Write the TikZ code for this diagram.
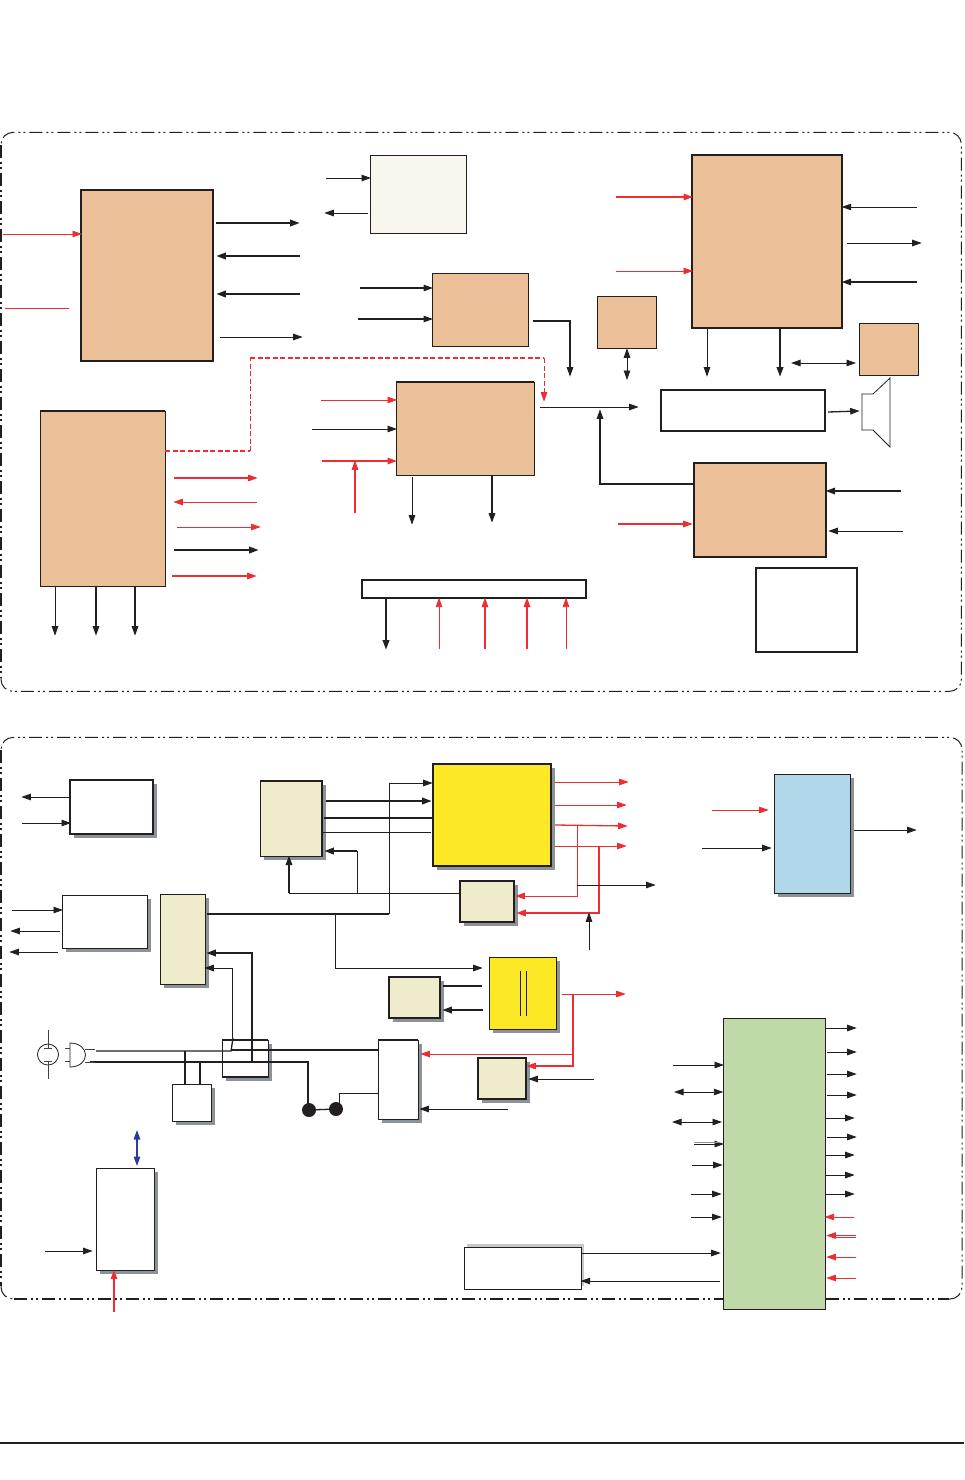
\documentclass[tikz,border=0pt]{standalone}
\usetikzlibrary{arrows.meta,shadows}
\definecolor{ink}{HTML}{231F20}
\definecolor{rd}{HTML}{EE2D32}
\definecolor{tan}{HTML}{EBBF98}
\definecolor{cream}{HTML}{F9F6EE}
\definecolor{khaki}{HTML}{EFECCB}
\definecolor{yel}{HTML}{FCE825}
\definecolor{skyb}{HTML}{B0D8EA}
\definecolor{grn}{HTML}{C0D9A8}
\definecolor{shd}{HTML}{8B9298}
\definecolor{nav}{HTML}{2E3A9A}
\newcounter{wr}
\newcommand\wire[3][]{\stepcounter{wr}\coordinate (w\thewr a) at (#2);\coordinate (w\thewr b) at (#3);\draw[#1] (w\thewr a) -- (w\thewr b);}
\newcommand\bx[6][]{\node[bbox,#1,minimum width={(#5-#3)*1pt},minimum height={(#6-#4)*1pt},anchor=north west] (#2) at (#3.3,#4.3) {};}
\tikzset{
  bbox/.style={draw=ink,line width=1pt,inner sep=0pt,outer sep=0pt,rectangle},
  sh/.style={drop shadow={shadow xshift=4pt,shadow yshift=-4pt,fill=shd,opacity=1}},
  hv/.style={line width=1.9pt},
  boxedge/.style={draw=ink,line width=1.9pt},
  wr/.style={draw=ink,line width=.9pt},
  md/.style={wr,line width=1.3pt},
  tk/.style={wr,line width=1.8pt},
  rw/.style={draw=rd,line width=.8pt},
  rm/.style={draw=rd,line width=1.3pt},
  rt/.style={draw=rd,line width=1.9pt},
  tip/.style={-{Triangle[length=9.5pt,width=6.5pt]},shorten >=-.7pt},
  rtip/.style={-{Triangle[length=9.5pt,width=6.5pt,fill=rd]},shorten >=-.7pt},
  both/.style={{Triangle[length=9.5pt,width=6.5pt]}-{Triangle[length=9.5pt,width=6.5pt]}},
  frame/.style={draw=ink,line width=1pt,rounded corners=12pt,dash pattern=on 13pt off 4pt on 2pt off 3pt on 2pt off 4pt},
  framethick/.style={draw=ink,line width=2pt,dash pattern=on 13pt off 4pt on 2pt off 3pt on 2pt off 4pt},
}
\begin{document}
\begin{tikzpicture}[x=1pt,y=-1pt,>=Triangle]
\useasboundingbox (0,0) rectangle (964,1480);
\fill[white] (0,0) rectangle (964,1480);
% frames
\draw[frame] (1,678) -- (1,691.4) -- (961.4,691.4) -- (961.4,132.4) -- (1,132.4) -- (1,145);
\draw[frame] (949,1299) -- (962,1299) -- (962,737.4) -- (1,737.4) -- (1,750);
\draw[frame] (1,1286) -- (1,1299) -- (14,1299);
\draw[framethick] (1,145) -- (1,678);
\draw[framethick] (1,750) -- (1,1286);
\draw[framethick] (14,1299) -- (949,1299);
\coordinate (rl) at (0,1443);\coordinate (rr) at (964,1443);
\draw[ink,line width=1.4pt] (rl) -- (rr);
% top boxes
\bx[fill=tan,hv]{A}{81}{190}{213}{361}
\bx[fill=cream]{B}{370}{155}{466}{233}
\bx[fill=tan]{C}{432}{273}{528}{346}
\bx[fill=tan]{D}{597}{296}{656}{348}
\bx[fill=tan,hv]{E}{692}{155}{842}{328}
\bx[fill=tan]{F}{859}{323}{918}{375}
\bx[fill=white,hv]{G}{661}{390}{825}{431}
\bx[fill=tan,hv]{H}{694}{463}{826}{557}
\bx[fill=tan]{I}{396}{382}{534}{475}
\draw[boxedge] (I.north west) -- (I.north east);
\bx[fill=tan]{J}{40}{411}{165}{586}
\draw[boxedge] (J.north west) -- (J.north east);
\bx[fill=white,hv]{K}{362}{580}{586}{598}
\bx[fill=white,hv]{L}{756}{568}{857}{652}
% speaker
\draw[ink,line width=.8pt,fill=white] (862,394) -- (873,394) -- (890,378) -- (890,447) -- (873,430) -- (862,430) -- cycle;
% top wires
\wire[rw,rtip]{3,234}{A.west |- 0,234}
\wire[rw]{5,308}{69,308}
\wire[tk,tip]{216,223}{299,223}
\wire[tk,tip]{300,256}{217,256}
\wire[tk,tip]{300,294}{217,294}
\wire[wr,tip]{220,337}{302,337}
\wire[wr,tip]{326,178}{B.west |- 0,178}
\wire[wr,tip]{368,213}{325,213}
\wire[md,tip]{360,288}{C.west |- 0,288}
\wire[md,tip]{358,319}{C.west |- 0,319}
\draw[md,tip] (533,321) -- (570,321) -- (570,376);
\wire[wr,both]{D.south -| 627,0}{627,380}
\draw[rm,rtip] (616,197) -- (E.west |- 0,197);
\wire[rw,rtip]{616,271}{E.west |- 0,271}
\wire[wr,tip]{917,207}{E.east |- 0,207}
\wire[wr,tip]{847,243}{921,243}
\wire[md,tip]{917,282}{E.east |- 0,282}
\wire[wr,tip]{E.south -| 707,0}{707,376}
\wire[tk,tip]{E.south -| 780,0}{780,376}
\wire[wr,both]{791,363}{856,363}
\wire[md,tip]{828,412}{859,411}
\wire[tk,tip]{901,491}{H.east |- 0,491}
\wire[wr,tip]{903,531}{829,531}
\draw[rm,rtip] (618,524) -- (692,524);
\draw[md,tip] (H.west |- 0,484) -- (600,484) -- (600,410);
\wire[wr,tip]{540,407}{638,407}
\draw[rm,line width=1.6pt,dash pattern=on 5pt off 2.5pt] (J.east |- 0,451) -- (250,451);
\draw[rw,line width=1pt,dash pattern=on 5pt off 2.5pt] (250,451) -- (250,358);
\draw[rm,line width=1.6pt,dash pattern=on 5pt off 2.5pt] (250,358) -- (544,358);
\draw[rw,line width=1pt,dash pattern=on 5pt off 2.5pt] (544,358) -- (544,392);
\draw[rw,rtip] (544,392) -- (544,401);
\wire[rw,rtip]{321,400}{I.west |- 0,400}
\wire[wr,tip]{312,429}{I.west |- 0,429}
\wire[rm,rtip]{322,461}{I.west |- 0,461}
\wire[rm,rtip]{355,513}{355,461}
\wire[wr,tip]{412,477}{412,524}
\wire[md,tip]{I.south -| 492,0}{492,522}
\wire[rm,rtip]{174,478}{257,478}
\wire[rw,rtip]{257,502}{174,502}
\wire[rw,rtip]{177,527}{260,527}
\wire[tk,tip]{174,550}{258,550}
\wire[rm,rtip]{172,576}{256,576}
\wire[wr,tip]{J.south -| 55,0}{55,635}
\wire[md,tip]{J.south -| 96,0}{96,635}
\wire[md,tip]{J.south -| 135,0}{135,635}
\wire[tk,tip]{K.south -| 386,0}{386,649}
\wire[rw,rtip]{439,649}{K.south -| 439,0}
\wire[rm,rtip]{485,649}{K.south -| 485,0}
\wire[rm,rtip]{527,649}{K.south -| 527,0}
\wire[rw,rtip]{566,649}{K.south -| 566,0}
% bottom boxes
\bx[fill=white,sh,hv]{a}{70}{780}{153}{834}
\bx[fill=white,sh]{b}{62}{895}{147}{948}
\bx[fill=khaki,sh]{c}{160}{894}{205}{984}
\bx[fill=khaki,sh]{d}{260}{781}{322}{856}
\draw[boxedge] (d.north west) -- (d.north east) -- (d.south east);
\bx[fill=yel,sh,hv]{e}{433}{764}{551}{866}
\bx[fill=khaki,sh,hv]{f}{460}{881}{514}{922}
\bx[fill=yel,sh]{g}{489}{957}{556}{1029}
\bx[fill=khaki,sh,hv]{h}{389}{977}{440}{1018}
\bx[fill=khaki,sh,hv]{i}{478}{1058}{526}{1099}
\bx[fill=white,sh]{j}{378}{1040}{418}{1119}
\draw[boxedge] (j.north west) -- (j.north east);
\bx[fill=white,sh]{k}{222}{1040}{268}{1077}
\draw[boxedge] (k.north west) -- (k.north east);
\draw[boxedge] (k.south west) -- (k.south east);
\bx[fill=white,sh]{l}{172}{1084}{211}{1121}
\bx[fill=white,sh]{m}{96}{1168}{154}{1270}
\bx[fill=skyb,sh]{n}{774}{774}{850}{893}
\bx[fill=grn]{o}{723}{1018}{825}{1309}
\node[draw=none,fill=shd!50,minimum width=117pt,minimum height=42pt,inner sep=0pt,outer sep=0pt,anchor=north west] (ps) at (467.3,1244.3) {};
\bx[fill=white]{p}{464}{1247}{581}{1289}
% bottom wires
\wire[wr,tip]{a.west |- 0,797}{22,797}
\wire[wr,tip]{22,823}{a.west |- 0,823}
\wire[wr,tip]{12,910}{b.west |- 0,910}
\wire[wr,tip]{60,931}{11,931}
\wire[wr,tip]{58,952}{10,952}
\wire[tk,tip]{326,801}{431,801}
\wire[tk]{324,818}{e.west |- 0,818}
\wire[wr]{322,832}{431,832}
\draw[tk] (207,914) -- (389,914);
\draw[wr,tip] (389,914) -- (389,783) -- (432,783);
\draw[wr,tip] (335,914) -- (335,968) -- (482,968);
\draw[wr] (f.west |- 0,893) -- (289,893);
\draw[tk,tip] (289,893) -- (d.south -| 289,0);
\draw[wr] (357,893) -- (357,851);
\draw[tk,tip] (357,851) -- (325,851);
\wire[rw,rtip]{555,782}{628,782}
\wire[rw,rtip]{555,805}{626,805}
\wire[rm,rtip]{555,825}{627,826}
\wire[rw,rtip]{555,846}{626,846}
\draw[rw,rtip] (577,825) -- (577,896) -- (516,896);
\draw[rt,rtip] (599,846) -- (599,913) -- (517,913);
\wire[wr,tip]{577,885}{655,885}
\wire[wr,tip]{589,950}{589,913}
\wire[rw,rtip]{562,994}{625,994}
\draw[rm,rtip] (573,994) -- (573,1066) -- (527,1066);
\wire[rw,rtip]{573,1054}{421,1054}
\wire[wr,tip]{594,1079}{529,1079}
\wire[wr,tip]{508,1109}{420,1109}
\wire[tk]{443,986}{482,986}
\wire[tk,tip]{483,1010}{443,1010}
\wire[wr]{520,971}{520,1016}
\wire[wr]{526,971}{526,1016}
\wire[rw,rtip]{712,810}{768,810}
\wire[wr,tip]{702,848}{771,848}
\wire[wr,tip]{854,830}{916,830}
% power lines
\draw[tk,tip] (k.north -| 252,0) -- (252,953) -- (207,953);
\draw[tk] (252,1040) -- (252,1062);
\draw[wr,tip] (232,1038) -- (232,968) -- (205,968);
\draw[md] (96,1051) -- (231,1051) -- (233,1038);
\draw[md] (231,1050) -- (j.west |- 0,1050);
\draw[md] (90,1062) -- (308,1062) -- (308,1110);
\wire[tk]{185,1051}{l.north -| 185,0}
\wire[tk]{200,1062}{l.north -| 200,0}
\node[circle,fill=ink,minimum size=14pt,inner sep=0pt] (d1) at (309,1110) {};
\node[circle,fill=ink,minimum size=14pt,inner sep=0pt] (d2) at (336,1109) {};
\draw[md,draw=ink] (d1) -- (d2);
\draw[wr] (339,1109) -- (339,1093) -- (j.west |- 0,1093);
% source and plug
\node[circle,draw=ink,line width=.8pt,minimum size=21pt,inner sep=0pt] (src) at (48,1054.5) {};
\coordinate (s1) at (48,1030);\coordinate (s2) at (48,1048);\coordinate (s3) at (48,1061);\coordinate (s4) at (48,1079);
\draw[ink!85,line width=.9pt] (s1) -- (s2) (s3) -- (s4);
\draw[ink!85,line width=1pt] (44,1048) -- (52,1048) (44,1061) -- (52,1061);
\draw[ink,line width=.8pt,fill=white] (70,1043) .. controls (80,1043) and (85.5,1049) .. (85.5,1055) .. controls (85.5,1061) and (80,1067) .. (70,1067) -- cycle;
\draw[ink!85,line width=.7pt] (65,1048) -- (70,1048) (65,1061) -- (70,1061) (85,1049) -- (95,1049) (85,1062) -- (95,1062);
% blue and red on m
\wire[draw=nav,line width=1.4pt,{Triangle[length=9.5pt,width=6.5pt,fill=nav]}-{Triangle[length=9.5pt,width=6.5pt,fill=nav]}]{137,1130}{137,1166}
\wire[wr,tip]{45,1251}{92,1251}
\wire[rm,rtip]{114,1312}{m.south -| 114,0}
% green box left
\wire[wr,tip]{673,1065}{o.west |- 0,1065}
\wire[wr,both]{674,1092}{o.west |- 0,1092}
\wire[wr,both]{672,1122}{722,1122}
\wire[wr,tip]{694,1144}{o.west |- 0,1144}
\wire[draw=shd,line width=.6pt]{694,1142.5}{720,1142.5}
\wire[wr,tip]{692,1165}{722,1165}
\wire[wr,tip]{691,1194}{721,1194}
\wire[wr,tip]{691,1217}{721,1217}
\wire[wr,tip]{p.east |- 0,1253}{720,1253}
\wire[wr,tip]{720,1281}{p.east |- 0,1281}
% green box right
\wire[wr,tip]{o.east |- 0,1028}{856,1028}
\wire[wr,tip]{827,1052}{856,1052}
\wire[wr,tip]{827,1074}{856,1074}
\wire[wr,tip]{827,1095}{856,1095}
\wire[wr,tip]{o.east |- 0,1118}{854,1118}
\wire[wr,tip]{827,1137}{856,1137}
\wire[wr,tip]{o.east |- 0,1155}{854,1155}
\wire[wr,tip]{o.east |- 0,1175}{854,1175}
\wire[wr,tip]{o.east |- 0,1194}{854,1194}
\wire[rw,rtip]{854,1217}{o.east |- 0,1217}
\wire[rw,rtip]{856,1235.5}{827,1235.5}
\wire[rw]{856,1237}{832,1237}
\wire[rw,rtip]{856,1257}{827,1257}
\wire[rw,rtip]{856,1278}{827,1278}
\end{tikzpicture}
\end{document}
